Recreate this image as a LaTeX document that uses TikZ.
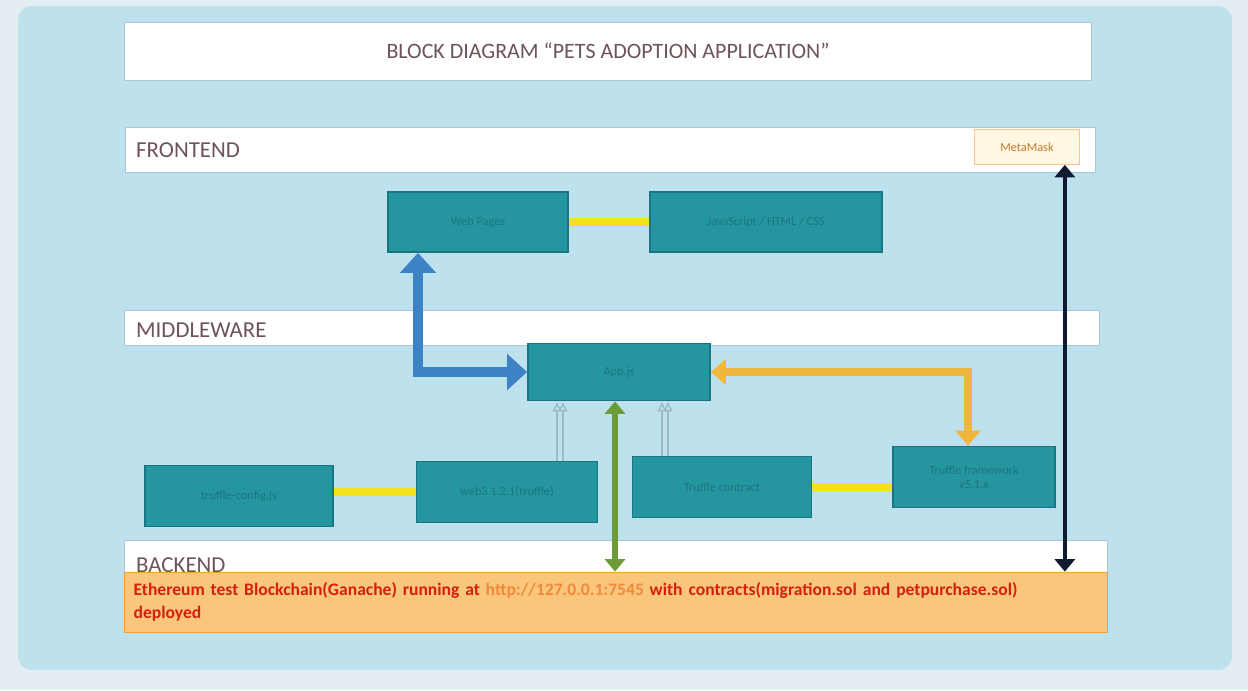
\documentclass[tikz,border=0pt]{standalone}
\usepackage{fontspec}
\setmainfont{Carlito}
\usepackage{tikz}
\usetikzlibrary{positioning,arrows.meta,calc}
\definecolor{screen}{HTML}{E4EEF2}
\definecolor{screenlight}{HTML}{BEE1EE}
\definecolor{teal}{HTML}{2596A0}
\definecolor{darkteal}{HTML}{1A7580}
\definecolor{laneline}{HTML}{A9C6D8}
\definecolor{lanetext}{HTML}{6E5458}
\definecolor{linkyellow}{HTML}{F2E21E}
\definecolor{steel}{HTML}{3C82C4}
\definecolor{amber}{HTML}{F1B640}
\definecolor{olive}{HTML}{6E9B3A}
\definecolor{navy}{HTML}{0E1B33}
\definecolor{pale}{HTML}{9FB8C8}
\definecolor{chainfill}{HTML}{FAC67C}
\definecolor{chainline}{HTML}{F0A040}
\definecolor{chaintext}{HTML}{D4200E}
\definecolor{linktext}{HTML}{F08A3A}
\definecolor{maskfill}{HTML}{FFF7E2}
\definecolor{masktext}{HTML}{C27A2E}
\tikzset{
  lane/.style={draw=laneline,fill=white,line width=0.4pt},
  lanelbl/.style={font=\fontsize{13}{14}\selectfont,text=lanetext,anchor=west},
  block/.style={draw=darkteal,fill=teal,line width=1pt,align=center,minimum height=1.2cm,
    font=\fontsize{7}{8}\selectfont,text=darkteal},
  yellowlink/.style={draw=linkyellow,line width=4pt},
  blueflow/.style={{Triangle[length=4mm,width=7mm]}-{Triangle[length=4mm,width=7mm]},draw=steel,line width=6pt},
  amberflow/.style={{Triangle[length=3mm,width=5mm]}-{Triangle[length=3mm,width=5mm]},draw=amber,line width=4pt},
  greenflow/.style={{Triangle[length=2.5mm,width=4mm]}-{Triangle[length=2.5mm,width=4mm]},draw=olive,line width=3pt},
  navyflow/.style={{Triangle[length=2.5mm,width=4mm]}-{Triangle[length=2.5mm,width=4mm]},draw=navy,line width=2.5pt},
  thinflow/.style={-{Latex[open,length=2mm,width=2mm]},draw=pale,line width=0.8pt}}
\begin{document}
\begin{tikzpicture}[x=0.02cm,y=-0.02cm]
  \useasboundingbox (0,0) rectangle (1248,690);
  \fill[screen] (0,0) rectangle (1248,690);
  \fill[screenlight,rounded corners=8pt] (18,6) rectangle (1232,670);
  % title
  \node[lane,minimum width=19.34cm,minimum height=1.16cm,font=\fontsize{12.5}{14}\selectfont,text=lanetext] (title) at (608,51) {BLOCK DIAGRAM ``PETS ADOPTION APPLICATION''};
  % frontend
  \node[lane,minimum width=19.4cm,minimum height=0.9cm] (front) at (610,150) {};
  \node[lanelbl] (frontlbl) at (130,150) {FRONTEND};
  \node[draw=chainline!60,fill=maskfill,minimum width=2.1cm,minimum height=0.7cm,font=\fontsize{7}{8}\selectfont,text=masktext] (metamask) at (1027,147) {MetaMask};
  \node[block,minimum width=3.6cm] (webapp) at (478,222) {Web Pages};
  \node[block,minimum width=4.64cm] (ui) at (766,222) {JavaScript / HTML / CSS};
  \draw[yellowlink] (webapp) -- (ui);
  % middleware
  \node[lane,minimum width=19.5cm,minimum height=0.7cm] (middle) at (612,328) {};
  \node[lanelbl] (middlelbl) at (130,330) {MIDDLEWARE};
  \node[block,minimum width=3.64cm,minimum height=1.14cm] (api) at (619,372) {App.js};
  \node[block,minimum width=3.76cm,minimum height=1.22cm] (config) at (239,496) {truffle-config.js};
  \node[block,minimum width=3.62cm,minimum height=1.22cm] (web3) at (507,492) {web3 1.2.1(truffle)};
  \node[block,minimum width=3.58cm,minimum height=1.22cm] (contract) at (722,487) {Truffle contract};
  \node[block,minimum width=3.24cm,minimum height=1.22cm] (truffle) at (974,477) {Truffle framework\\v5.1.x};
  \draw[yellowlink] (web3.west) -- (web3.west -| config.east);
  \draw[yellowlink] (contract.east) -- (contract.east -| truffle.west);
  % backend
  \node[lane,minimum width=19.66cm,minimum height=0.64cm] (back) at (616,556) {};
  \node[lanelbl] (backlbl) at (130,565) {BACKEND};
  \node[draw=chainline,fill=chainfill,minimum width=19.66cm,minimum height=1.2cm,
    font=\bfseries\fontsize{10}{13}\selectfont,text=chaintext,align=left,text width=19.3cm] (chain) at (616,602)
    {Ethereum test Blockchain(Ganache) running at \textcolor{linktext}{http://127.0.0.1:7545} with contracts(migration.sol and petpurchase.sol)\\deployed};
  % connectors
  \coordinate (bluebend) at (418,372);
  \draw[blueflow] (api.west) -- (bluebend) -- (bluebend |- webapp.south);
  \coordinate (amberbend) at (968,372);
  \draw[amberflow] (api.east) -- (amberbend) -- (amberbend |- truffle.north);
  \draw[greenflow] ($(api.south)+(-4,0)$) -- ($(api.south |- chain.north)+(-4,0)$);
  \foreach \dx in {-62,-56} \draw[thinflow] ($(web3.north -| api.south)+(\dx,0)$) -- ($(api.south)+(\dx,0)$);
  \foreach \dx in {43,49} \draw[thinflow] ($(contract.north -| api.south)+(\dx,0)$) -- ($(api.south)+(\dx,0)$);
  \draw[navyflow] ($(metamask.south east)+(-15,0)$) -- ($(metamask.south east |- chain.north)+(-15,0)$);
\end{tikzpicture}
\end{document}
